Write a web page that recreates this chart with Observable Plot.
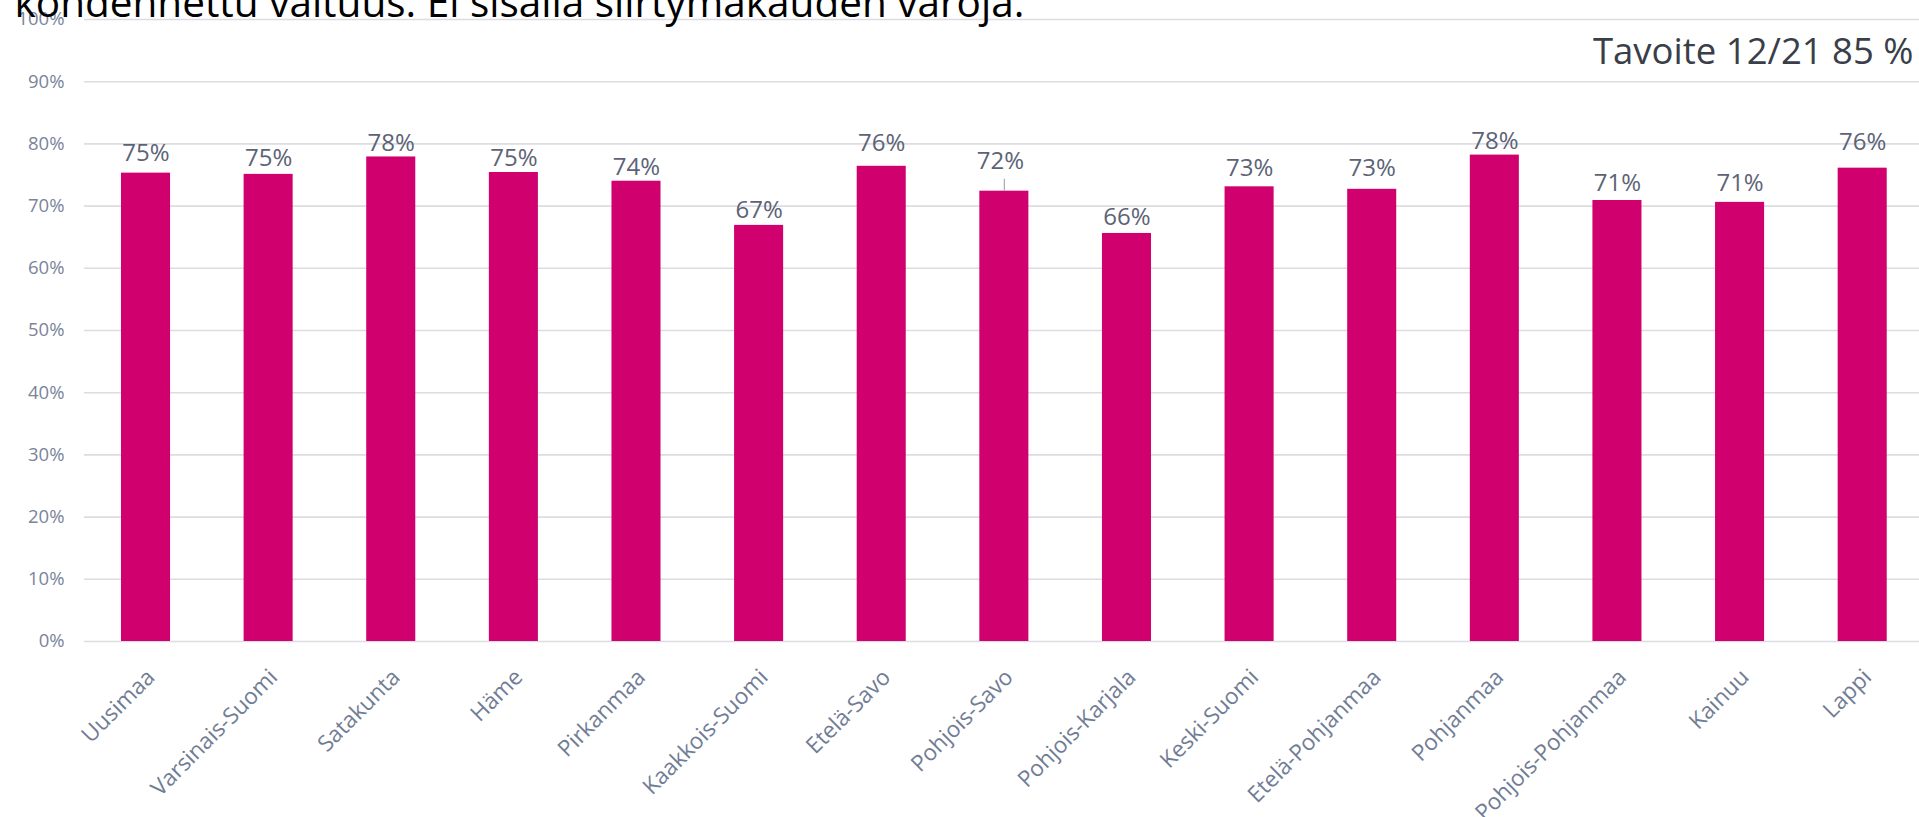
<!DOCTYPE html>
<html>
<head>
<meta charset="utf-8">
<script src="https://cdn.jsdelivr.net/npm/d3@7"></script>
<script src="https://cdn.jsdelivr.net/npm/@observablehq/plot@0.6"></script>
<style>
  html, body { margin: 0; padding: 0; background: #ffffff; overflow: hidden; }
  #chart svg { display: block; }
</style>
</head>
<body>
<div id="chart"></div>
<script>
// ---- data ----
const regions = ["Uusimaa", "Varsinais-Suomi", "Satakunta", "Häme", "Pirkanmaa", "Kaakkois-Suomi", "Etelä-Savo", "Pohjois-Savo", "Pohjois-Karjala", "Keski-Suomi", "Etelä-Pohjanmaa", "Pohjanmaa", "Pohjois-Pohjanmaa", "Kainuu", "Lappi"];
const shares = [0.753, 0.751, 0.779, 0.754, 0.740, 0.669, 0.764, 0.724, 0.656, 0.731, 0.727, 0.782, 0.709, 0.706, 0.761];
const yTicks = [0, 0.1, 0.2, 0.3, 0.4, 0.5, 0.6, 0.7, 0.8, 0.9, 1.0];
const titleText = "kondennettu valtuus. Ei sisällä siirtymäkauden varoja.";
const targetText = "Tavoite 12/21 85 %";

// ---- label placement (pixel gap between bar top and label baseline) ----
const labelGap = [11.7, 8.7, 6.3, 6.3, 6.7, 7.3, 15.7, 22, 8.7, 11, 13.7, 6.3, 9.3, 11, 18.3];
const leaderFor = ["Pohjois-Savo"];

const data = regions.map((region, i) => ({region, share: shares[i], gap: labelGap[i]}));
const pct = d3.format(".0%");

const FONT = "'Open Sans', 'Noto Sans', sans-serif";
const BAR = "#d0006f";
const GRID = "#dcdce2";
const TICK = "#7a849a";
const XLAB = "#717d95";
const DLAB = "#5c6376";

const labelMarks = data.map(d =>
  Plot.text([d], {
    x: "region", y: "share", text: r => pct(r.share),
    lineAnchor: "bottom", textAnchor: "middle",
    dy: -d.gap, dx: leaderFor.includes(d.region) ? -4 : 0,
    fontSize: 24, fill: DLAB
  })
);

const chart = Plot.plot({
  width: 1919,
  height: 817,
  marginTop: 19,
  marginBottom: 176,
  marginLeft: 84,
  marginRight: 0,
  style: {fontFamily: FONT, background: "#ffffff"},
  x: {domain: regions, range: [84.2, 1923.5], paddingInner: 0.6, paddingOuter: 0.3, round: false, axis: null},
  y: {domain: [0, 1], axis: null},
  marks: [
    Plot.gridY(yTicks, {stroke: GRID, strokeOpacity: 1, strokeWidth: 1.6}),
    Plot.axisY(yTicks, {tickFormat: pct, tickSize: 0, tickPadding: 20, fontSize: 18.5, fill: TICK, label: null}),
    Plot.barY(data, {x: "region", y: "share", fill: BAR}),
    Plot.ruleX(data.filter(d => leaderFor.includes(d.region)), {x: "region", y1: "share", y2: "share", insetTop: -12, stroke: "#a7abb6", strokeWidth: 1.2}),
    ...labelMarks,
    Plot.text(regions, {
      x: d => d, frameAnchor: "bottom", text: d => d,
      rotate: -45, textAnchor: "end", lineAnchor: "middle",
      dx: 5, dy: 32, fontSize: 22.5, fill: XLAB
    }),
    Plot.text([titleText], {
      frameAnchor: "top-left", text: d => d, textAnchor: "start", lineAnchor: "bottom",
      dx: -70, dy: -2.5, fontSize: 40.5, fill: "#000000"
    }),
    Plot.text([targetText], {
      frameAnchor: "top-right", text: d => d, textAnchor: "end", lineAnchor: "bottom",
      dx: -6, dy: 44.3, fontSize: 36.5, fill: "#3a3e49"
    })
  ]
});

document.getElementById("chart").appendChild(chart);
</script>
</body>
</html>
